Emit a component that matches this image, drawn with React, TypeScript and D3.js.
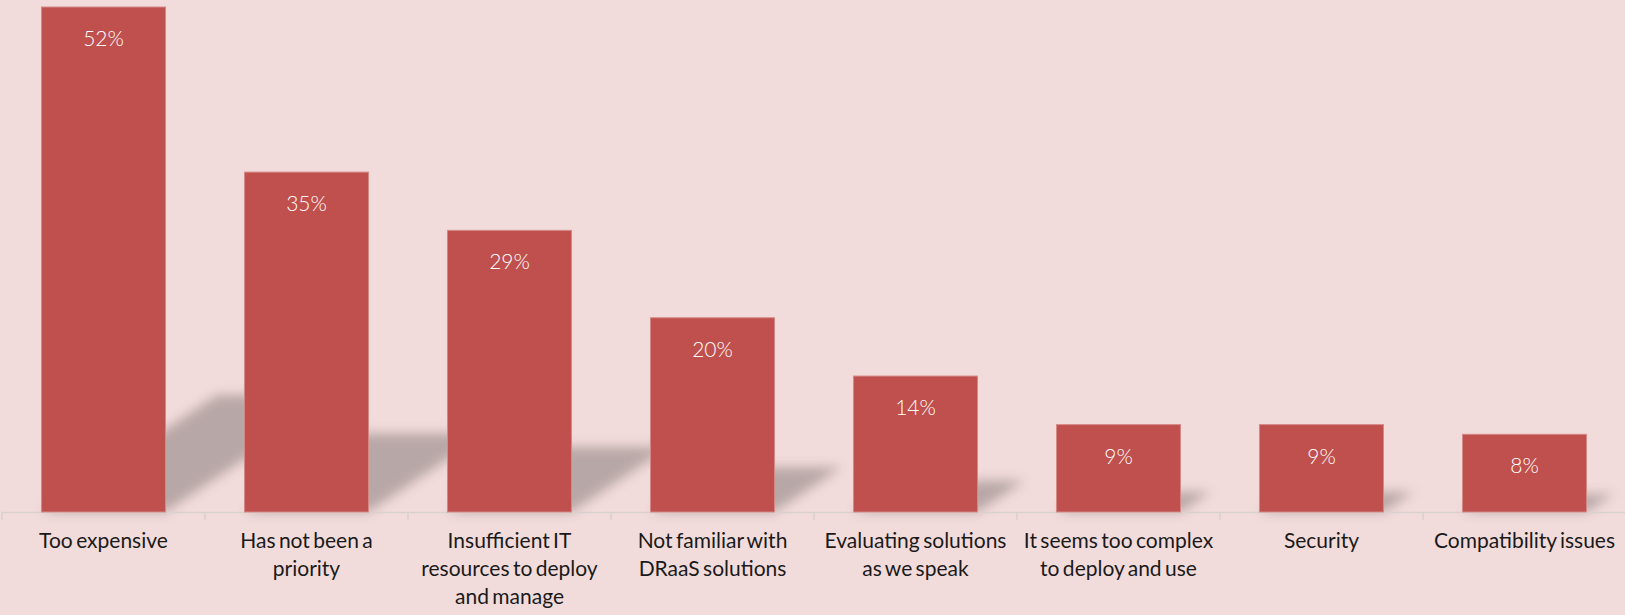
import React from "react";
import * as d3 from "d3";

const categories: string[][] = [
  ["Too expensive"],
  ["Has not been a", "priority"],
  ["Insufficient IT", "resources to deploy", "and manage"],
  ["Not familiar with", "DRaaS solutions"],
  ["Evaluating solutions", "as we speak"],
  ["It seems too complex", "to deploy and use"],
  ["Security"],
  ["Compatibility issues"],
];
const values: number[] = [52, 35, 29, 20, 14, 9, 9, 8];
const valueLabels: string[] = ["52%", "35%", "29%", "20%", "14%", "9%", "9%", "8%"];

const W = 1625;
const H = 615;
const BASE = 512;
const TOP = 7;
const BG = "#F2DCDB";
const BAR = "#C0504D";

export default function App() {
  const keys = categories.map((_, i) => String(i));
  const x = d3
    .scaleBand<string>()
    .domain(keys)
    .range([2, 1626])
    .paddingInner(0.389)
    .paddingOuter(0.1945);
  const y = d3.scaleLinear().domain([0, 52]).range([BASE, TOP]);
  const step = x.step();
  const bw = x.bandwidth();

  const shadowPath = (i: number) => {
    const x0 = x(keys[i])!;
    const x1 = x0 + bw;
    const h = BASE - y(values[i]);
    const sh = h * 0.232;
    const dx = sh * 1.5;
    const p = d3.path();
    p.moveTo(x0, BASE);
    p.lineTo(x1, BASE);
    p.lineTo(x1 + dx, BASE - sh);
    p.lineTo(x0 + dx, BASE - sh);
    p.closePath();
    return p.toString();
  };

  const tickXs = d3.range(categories.length + 1).map((i) => 2 + i * step);

  return (
    <svg
      width={W}
      height={H}
      style={{ position: "absolute", left: 0, top: 0, display: "block" }}
    >
      <defs>
        <filter id="blur" x="-50%" y="-50%" width="200%" height="200%">
          <feGaussianBlur stdDeviation="6" />
        </filter>
      </defs>
      <rect x={0} y={0} width={W} height={H} fill={BG} />
      <g filter="url(#blur)">
        {values.map((_, i) => (
          <path key={i} d={shadowPath(i)} fill="#000" fillOpacity={0.24} />
        ))}
      </g>
      <line x1={2} x2={W} y1={BASE + 0.5} y2={BASE + 0.5} stroke="#D9D0D0" strokeWidth={1.5} />
      {tickXs.map((tx, i) => (
        <line key={i} x1={tx} x2={tx} y1={BASE} y2={BASE + 8} stroke="#D9D0D0" strokeWidth={1.5} />
      ))}
      {values.map((v, i) => (
        <rect
          key={i}
          x={x(keys[i])!}
          y={y(v)}
          width={bw}
          height={BASE - y(v)}
          fill={BAR}
          stroke="#D58A88"
          strokeWidth={1}
        />
      ))}
      {values.map((v, i) => (
        <text
          key={i}
          x={x(keys[i])! + bw / 2}
          y={y(v) + 39}
          textAnchor="middle"
          fill="#FFFFFF"
          fontFamily="Lato, 'Open Sans', sans-serif"
          fontWeight={300}
          fontSize={21}
        >
          {valueLabels[i]}
        </text>
      ))}
      {categories.map((lines, i) => (
        <text
          key={i}
          textAnchor="middle"
          fill="#1a1a1a"
          fontFamily="Lato, 'Open Sans', sans-serif"
          fontSize={21}
          wordSpacing={-2}
        >
          {lines.map((l, j) => (
            <tspan key={j} x={x(keys[i])! + bw / 2} y={548 + j * 28}>
              {l}
            </tspan>
          ))}
        </text>
      ))}
    </svg>
  );
}
